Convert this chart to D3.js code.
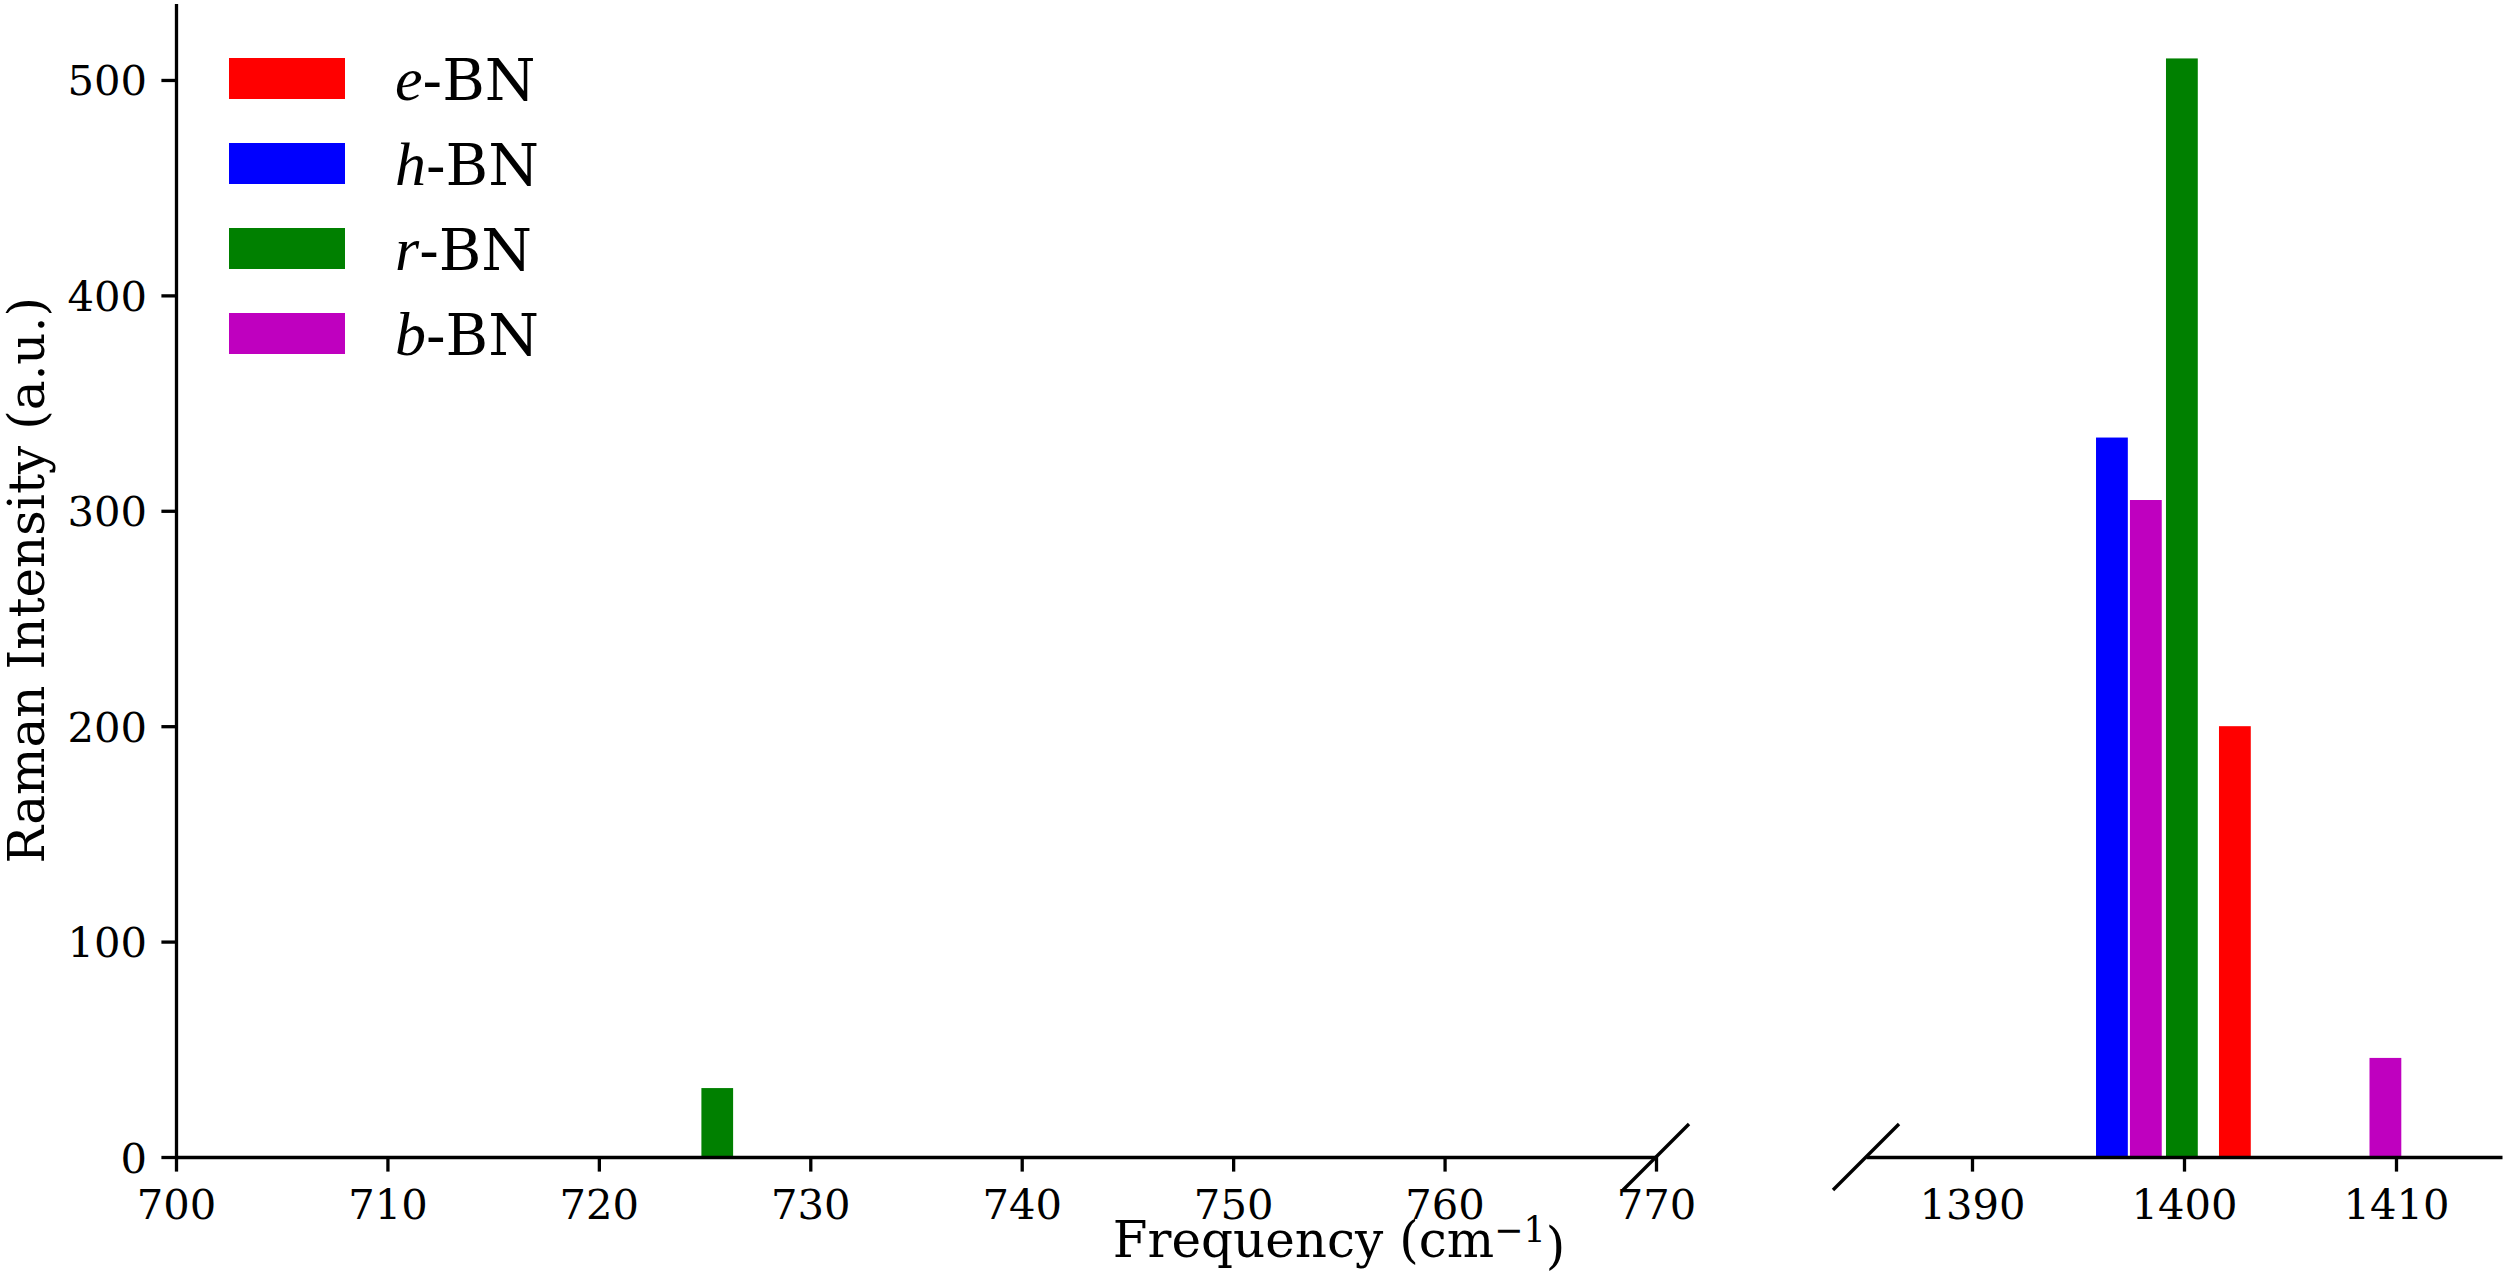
<!DOCTYPE html>
<html>
<head>
<meta charset="utf-8">
<script src="https://cdn.jsdelivr.net/npm/d3@7"></script>
<style>
  body { margin: 0; background: #fff; }
  svg { display: block; font-family: "DejaVu Serif", serif; }
  .axis path, .axis line { stroke: #000; stroke-width: 3.3; }
  .axis text { font-family: "DejaVu Serif", serif; font-size: 41.7px; fill: #000; }
</style>
</head>
<body>
<svg id="chart" width="2504" height="1276"></svg>
<script>
// series (legend order) and colours
const seriesNames = ["e", "h", "r", "b"];
const seriesColors = ["#ff0000", "#0000ff", "#008000", "#bf00bf"];

// Raman peaks: frequency (cm^-1) and intensity (a.u.)
const eFreq = [1402.4];
const eInt = [200];
const hFreq = [1396.6];
const hInt = [334];
const rFreq = [725.6, 1399.9];
const rInt = [32, 510];
const bFreq = [1398.2, 1409.5];
const bInt = [305, 46];

const leftTicks = [700, 710, 720, 730, 740, 750, 760, 770];
const rightTicks = [1390, 1400, 1410];
const yTicks = [0, 100, 200, 300, 400, 500];

const BAR_W = 1.5;

const svg = d3.select("#chart");

const y = d3.scaleLinear().domain([0, 535.5]).range([1157, 3.5]);
const xLeft = d3.scaleLinear().domain([700, 770]).range([176, 1656]);
const xRight = d3.scaleLinear().domain([1385, 1415]).range([1866, 2502]);

const peaks = [];
[[eFreq, eInt], [hFreq, hInt], [rFreq, rInt], [bFreq, bInt]].forEach(([fs, is], k) => {
  fs.forEach((f, i) => peaks.push({ f: f, v: is[i], c: seriesColors[k] }));
});

const scaleFor = f => (f < 1000 ? xLeft : xRight);

// bars
svg.append("g").selectAll("rect")
  .data(peaks)
  .join("rect")
    .attr("x", d => scaleFor(d.f)(d.f - BAR_W / 2))
    .attr("width", d => scaleFor(d.f)(d.f + BAR_W / 2) - scaleFor(d.f)(d.f - BAR_W / 2))
    .attr("y", d => y(d.v))
    .attr("height", d => y(0) - y(d.v))
    .attr("fill", d => d.c);

// x axes (broken)
const fmt = d3.format("d");
const axLeft = d3.axisBottom(xLeft).tickValues(leftTicks).tickFormat(fmt)
  .tickSize(14.6).tickSizeOuter(0).tickPadding(18);
const axRight = d3.axisBottom(xRight).tickValues(rightTicks).tickFormat(fmt)
  .tickSize(14.6).tickSizeOuter(0).tickPadding(18);

svg.append("g").attr("class", "axis").attr("transform", `translate(0,${y(0)})`).call(axLeft);
svg.append("g").attr("class", "axis").attr("transform", `translate(0,${y(0)})`).call(axRight);

// y axis
const axY = d3.axisLeft(y).tickValues(yTicks).tickFormat(fmt)
  .tickSize(14.6).tickSizeOuter(0).tickPadding(14.4);
const gy = svg.append("g").attr("class", "axis").attr("transform", `translate(${xLeft(700)},0)`).call(axY);
gy.selectAll("text").attr("dy", "0.36em");

// break marks
const brk = 33;
[xLeft(770), xRight(1385)].forEach(cx => {
  svg.append("line")
    .attr("x1", cx - brk).attr("y1", y(0) + brk)
    .attr("x2", cx + brk).attr("y2", y(0) - brk)
    .attr("stroke", "#000").attr("stroke-width", 3.3);
});

// axis labels
const xl = svg.append("text")
  .attr("x", (xLeft.range()[0] + xRight.range()[1]) / 2)
  .attr("y", 1257)
  .attr("text-anchor", "middle")
  .style("font-size", "50px");
xl.append("tspan").text("Frequency (cm");
xl.append("tspan").attr("dy", "-0.42em").style("font-size", "35px").text("\u22121");
xl.append("tspan").attr("dy", "0.42em").text(")");

svg.append("text")
  .attr("transform", `translate(44,${(y.range()[0] + y.range()[1]) / 2}) rotate(-90)`)
  .attr("text-anchor", "middle")
  .style("font-size", "50px")
  .text("Raman Intensity (a.u.)");

// legend
const legend = svg.append("g").attr("transform", "translate(229,58)");
const item = legend.selectAll("g")
  .data(seriesNames)
  .join("g")
    .attr("transform", (d, i) => `translate(0,${i * 85})`);

item.append("rect")
  .attr("width", 116).attr("height", 41)
  .attr("fill", (d, i) => seriesColors[i]);

const lt = item.append("text")
  .attr("x", 166).attr("y", 42)
  .style("font-size", "58px");
lt.append("tspan")
  .style("font-family", "'Liberation Serif', serif")
  .style("font-style", "italic")
  .style("font-size", "62px")
  .text(d => d);
lt.append("tspan").text("-BN");
</script>
</body>
</html>
